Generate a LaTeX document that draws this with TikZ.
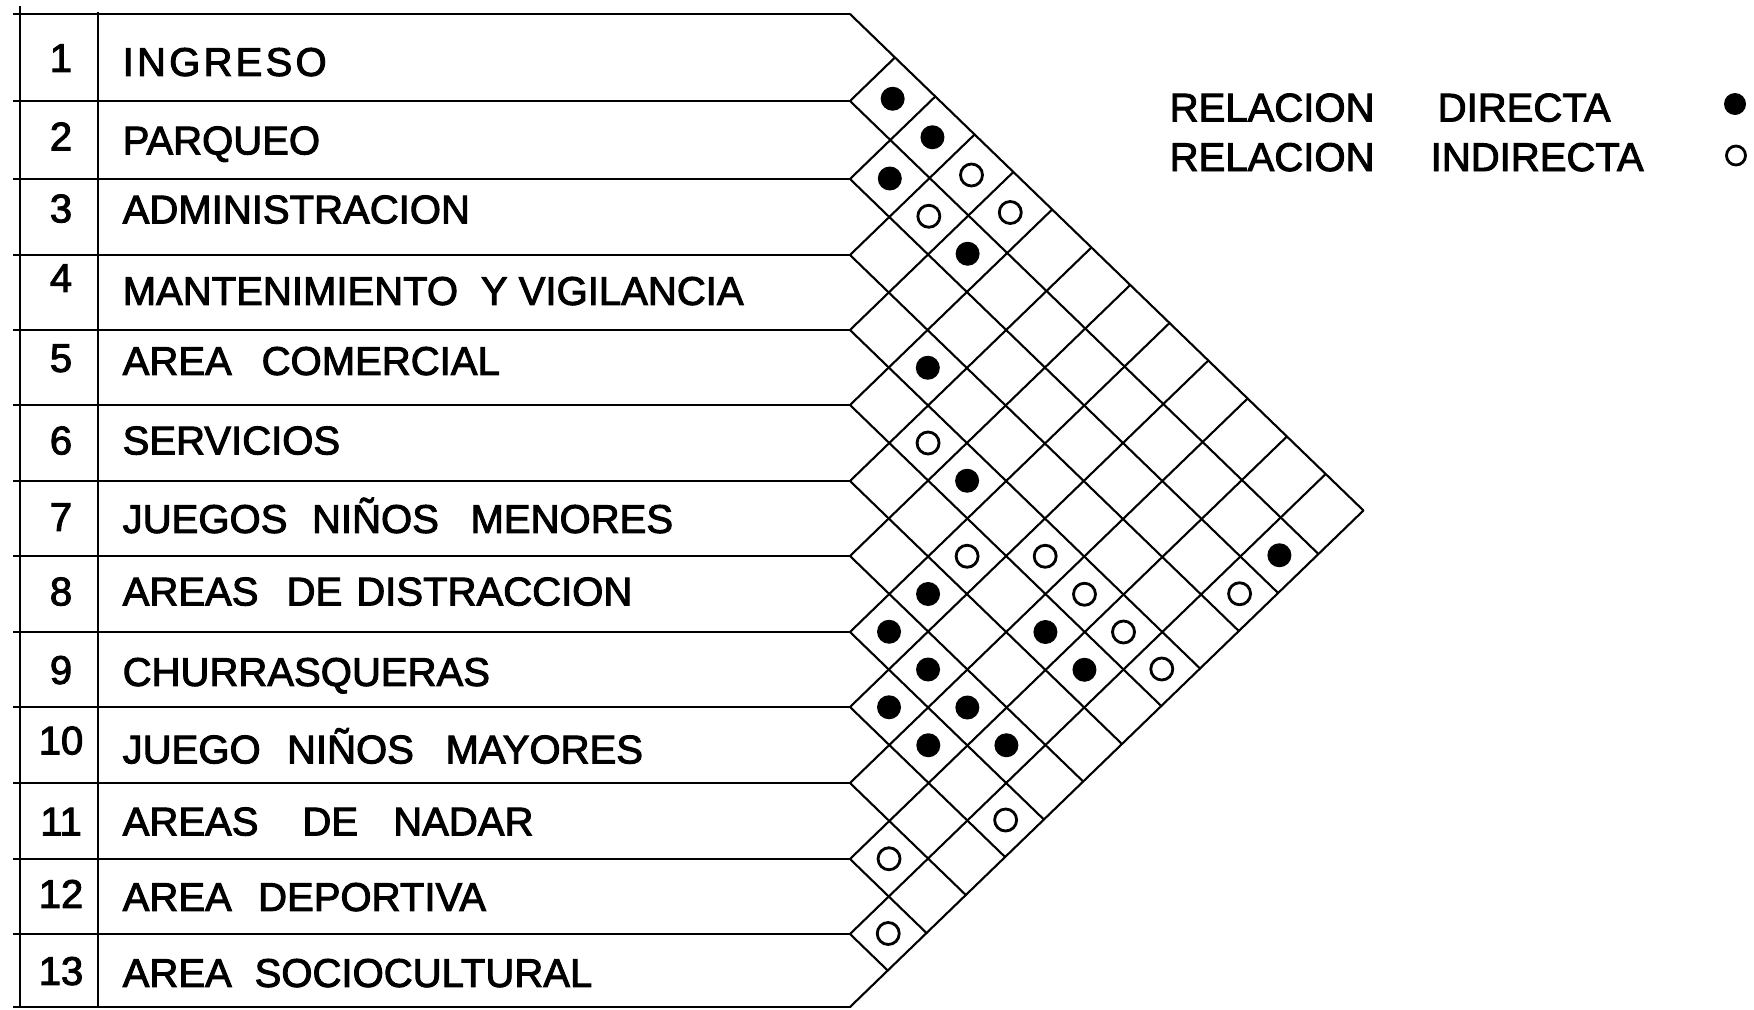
\documentclass[tikz,border=0pt]{standalone}
\usepackage{fontspec}
\setmainfont{Liberation Sans}[FakeBold=2.4]
\usepackage{tikz}
\definecolor{ink}{RGB}{0,0,0}
\tikzset{
  mline/.style={ink,line width=0.6pt},
  mgrid/.style={ink,line width=0.6pt,line cap=round},
  mlabel/.style={font=\fontsize{11.4}{13}\selectfont,anchor=base west,inner sep=0pt},
  mnum/.style={font=\fontsize{11.4}{13}\selectfont,anchor=base,inner sep=0pt},
  mdirect/.style={circle,fill=ink,inner sep=0pt,minimum size=0.24cm},
  mindirect/.style={circle,draw=ink,line width=0.8pt,fill=white,inner sep=0pt,minimum size=0.22cm},
}

\begin{document}
\begin{tikzpicture}[x=1cm,y=-1cm]
  \useasboundingbox (0,0) rectangle (17.54,10.10);
  \def\xl{0.20}\def\xd{0.98}\def\xr{8.50}\def\slope{0.967}
  \def\rowb{{0.14,1.01,1.79,2.55,3.30,4.05,4.81,5.56,6.32,7.07,7.83,8.59,9.34,10.07}}
  % ---- left table ----
  \draw[mline] (\xl,0.06) -- (\xl,10.08);
  \draw[mline] (\xd,0.12) -- (\xd,10.07);
  \foreach \k in {0,...,13} {
    \pgfmathsetmacro{\yb}{\rowb[\k]}
    \coordinate (b\k) at (\xr,\yb);
    \draw[mline] (0.13,\yb) -- (b\k);
  }
  \foreach \n/\lab/\dn/\dl in {
      1/{\addfontfeature{LetterSpace=8}INGRESO}/0/0.04,
      2/PARQUEO/-0.04/0,
      3/ADMINISTRACION/-0.09/-0.08,
      4/MANTENIMIENTO\hspace{6.5pt}Y VIGILANCIA/-0.15/-0.02,
      5/AREA\hspace{8.5pt}COMERCIAL/-0.10/-0.07,
      6/SERVICIOS/-0.03/-0.03,
      7/JUEGOS\hspace{7pt}NIÑOS\hspace{9pt}MENORES/-0.02/0,
      8/AREAS\hspace{8pt}DE\hspace{4pt}DISTRACCION/-0.03/-0.03,
      9/CHURRASQUERAS/0/0.02,
      10/JUEGO\hspace{7.5pt}NIÑOS\hspace{9pt}MAYORES/-0.05/0.04,
      11/AREAS\hspace{12.5pt}DE\hspace{10pt}NADAR/0/0,
      12/AREA\hspace{7.5pt}DEPORTIVA/-0.03/0,
      13/AREA\hspace{6.5pt}SOCIOCULTURAL/0/0.02} {
    \pgfmathtruncatemacro{\nm}{\n-1}
    \pgfmathsetmacro{\ya}{\rowb[\nm]}
    \pgfmathsetmacro{\yb}{\rowb[\n]}
    \pgfmathsetmacro{\cy}{(\ya+\yb)/2+0.144}
    \node[mnum] (num\n) at (0.61,{\cy+(\dn)}) {\n};
    \node[mlabel] (lab\n) at (1.22,{\cy+(\dl)}) {\lab};
  }
  % ---- relation grid ----
  \pgfmathsetmacro{\ytop}{\rowb[0]}
  \pgfmathsetmacro{\ybot}{\rowb[13]}
  \foreach \k in {0,...,12} {
    \pgfmathsetmacro{\yb}{\rowb[\k]}
    \pgfmathsetmacro{\dd}{\ybot-\yb}
    \draw[mgrid] (b\k) -- ++({\dd/(2*\slope)},{\dd/2});
  }
  \foreach \k in {1,...,13} {
    \pgfmathsetmacro{\yb}{\rowb[\k]}
    \pgfmathsetmacro{\dd}{\yb-\ytop}
    \draw[mgrid] (b\k) -- ++({\dd/(2*\slope)},{-\dd/2});
  }
  \foreach \i/\j/\kind in {1/2/mdirect, 1/3/mdirect, 2/3/mdirect,
      1/4/mindirect, 2/4/mindirect, 1/5/mindirect, 2/5/mdirect,
      4/6/mdirect, 5/7/mindirect, 5/8/mdirect, 6/9/mindirect,
      5/10/mindirect, 2/13/mdirect, 7/9/mdirect, 5/11/mindirect,
      3/13/mindirect, 8/9/mdirect, 6/11/mdirect, 5/12/mindirect,
      8/10/mdirect, 6/12/mdirect, 5/13/mindirect, 9/10/mdirect,
      8/11/mdirect, 9/11/mdirect, 8/12/mdirect, 9/13/mindirect,
      11/12/mindirect, 12/13/mindirect} {
    \pgfmathtruncatemacro{\im}{\i-1}
    \pgfmathtruncatemacro{\jm}{\j-1}
    \pgfmathsetmacro{\yia}{\rowb[\im]}
    \pgfmathsetmacro{\yib}{\rowb[\i]}
    \pgfmathsetmacro{\yja}{\rowb[\jm]}
    \pgfmathsetmacro{\yjb}{\rowb[\j]}
    \pgfmathsetmacro{\ci}{(\yia+\yib)/2}
    \pgfmathsetmacro{\cj}{(\yja+\yjb)/2}
    \node[\kind] (c\i-\j) at ({\xr+(\cj-\ci)/(2*\slope)},{(\ci+\cj)/2}) {};
  }
  % ---- legend ----
  \node[mlabel] (rel1) at (11.69,1.215) {RELACION};
  \node[mlabel] (dir) at (14.37,1.215) {DIRECTA};
  \node[mlabel] (rel2) at (11.69,1.71) {RELACION};
  \node[mlabel] (ind) at (14.30,1.71) {INDIRECTA};
  \node[mdirect,minimum size=0.22cm] (kd) at (17.35,1.04) {};
  \node[mindirect,minimum size=0.19cm] (ki) at (17.36,1.555) {};
\end{tikzpicture}
\end{document}
